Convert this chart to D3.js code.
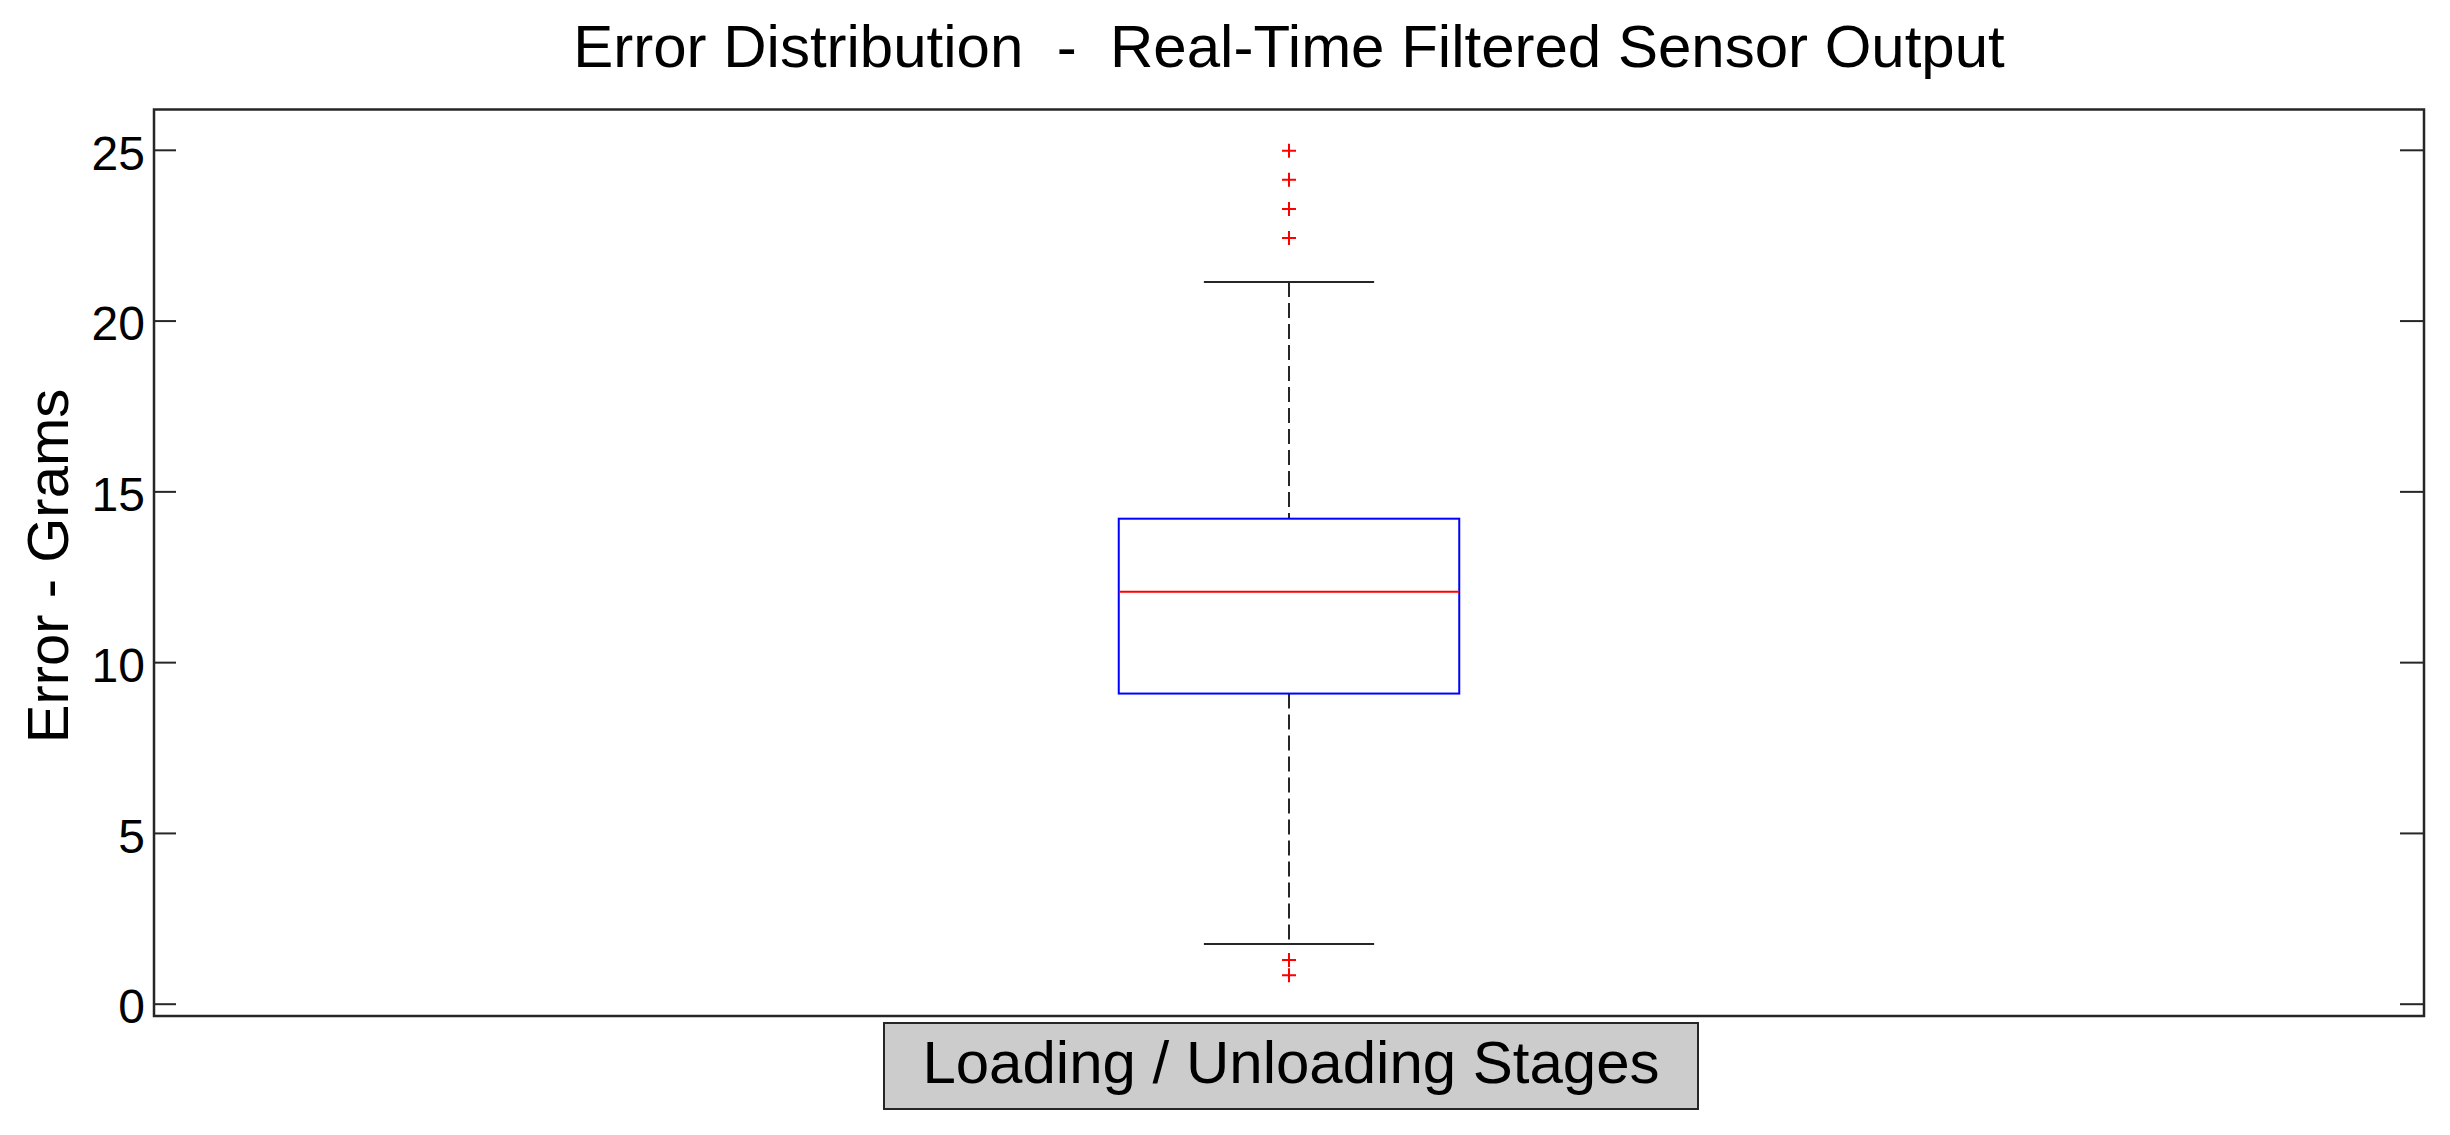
<!DOCTYPE html>
<html>
<head>
<meta charset="utf-8">
<script src="https://cdn.jsdelivr.net/npm/d3@7"></script>
<style>
  html, body { margin: 0; padding: 0; background: #fff; }
  svg { display: block; font-family: 'Liberation Sans', Arial, sans-serif; }
</style>
</head>
<body>
<div id="chart"></div>
<script>
// box statistics
const groups = ['Loading / Unloading Stages'];
const q1 = [9.08];
const median = [12.06];
const q3 = [14.20];
const whiskerLow = [1.75];
const whiskerHigh = [21.13];
const outliers = [[24.97, 24.12, 23.27, 22.42, 1.28, 0.83]];
const yTicks = [0, 5, 10, 15, 20, 25];

const width = 2450, height = 1135;
const plot = { left: 154, right: 2424, top: 109.5, bottom: 1016 };

const svg = d3.select('#chart').append('svg')
  .attr('width', width).attr('height', height);

const x = d3.scaleLinear().domain([0.5, groups.length + 0.5]).range([plot.left, plot.right]);
const y = d3.scaleLinear().domain([-0.36, 26.18]).range([plot.bottom, plot.top]);
const boxHalf = 0.075, capHalf = 0.0375;

// axes (ticks point inwards on both sides)
const yAxisL = svg.append('g').attr('transform', `translate(${plot.left},0)`)
  .call(d3.axisLeft(y).tickValues(yTicks).tickSizeInner(-22).tickSizeOuter(0).tickPadding(9));
yAxisL.select('.domain').remove();
yAxisL.selectAll('.tick line').attr('stroke', '#262626').attr('stroke-width', 2);
yAxisL.selectAll('.tick text').attr('fill', '#000').attr('font-size', 48)
  .attr('font-family', "'Liberation Sans', Arial, sans-serif").attr('dy', '0.4em');

const yAxisR = svg.append('g').attr('transform', `translate(${plot.right},0)`)
  .call(d3.axisRight(y).tickValues(yTicks).tickSizeInner(-24).tickSizeOuter(0).tickFormat(''));
yAxisR.select('.domain').remove();
yAxisR.selectAll('.tick line').attr('stroke', '#262626').attr('stroke-width', 2);

svg.append('rect')
  .attr('x', plot.left).attr('y', plot.top)
  .attr('width', plot.right - plot.left).attr('height', plot.bottom - plot.top)
  .attr('fill', 'none').attr('stroke', '#262626').attr('stroke-width', 2.5);

// box plot
const g = svg.append('g');
groups.forEach((name, i) => {
  const cx = x(i + 1);
  // whiskers
  g.append('line').attr('x1', cx).attr('x2', cx)
    .attr('y1', y(whiskerHigh[i])).attr('y2', y(q3[i]))
    .attr('stroke', '#262626').attr('stroke-width', 2).attr('stroke-dasharray', '15,6');
  g.append('line').attr('x1', cx).attr('x2', cx)
    .attr('y1', y(q1[i])).attr('y2', y(whiskerLow[i]))
    .attr('stroke', '#262626').attr('stroke-width', 2).attr('stroke-dasharray', '15,6');
  [whiskerHigh[i], whiskerLow[i]].forEach(v => {
    g.append('line')
      .attr('x1', x(i + 1 - capHalf)).attr('x2', x(i + 1 + capHalf))
      .attr('y1', y(v)).attr('y2', y(v))
      .attr('stroke', '#262626').attr('stroke-width', 2);
  });
  // box
  g.append('rect')
    .attr('x', x(i + 1 - boxHalf)).attr('width', x(i + 1 + boxHalf) - x(i + 1 - boxHalf))
    .attr('y', y(q3[i])).attr('height', y(q1[i]) - y(q3[i]))
    .attr('fill', 'none').attr('stroke', '#0000ff').attr('stroke-width', 2);
  g.append('line')
    .attr('x1', x(i + 1 - boxHalf)).attr('x2', x(i + 1 + boxHalf))
    .attr('y1', y(median[i])).attr('y2', y(median[i]))
    .attr('stroke', '#ff0000').attr('stroke-width', 2);
  // outliers as '+'
  g.selectAll(null).data(outliers[i]).join('path')
    .attr('d', d => `M${cx - 7},${y(d)}H${cx + 7}M${cx},${y(d) - 7}V${y(d) + 7}`)
    .attr('stroke', '#ff0000').attr('stroke-width', 2).attr('fill', 'none');
});

// x label in grey box
const lblCx = (plot.left + plot.right) / 2 + 2;
svg.append('rect')
  .attr('x', lblCx - 407).attr('y', 1023).attr('width', 814).attr('height', 86)
  .attr('fill', '#cccccc').attr('stroke', '#262626').attr('stroke-width', 2);
svg.append('text')
  .attr('x', lblCx).attr('y', 1083)
  .attr('text-anchor', 'middle').attr('font-size', 60).attr('fill', '#000')
  .text(groups[0]);

// y label
svg.append('text')
  .attr('transform', 'translate(68,566) rotate(-90)')
  .attr('text-anchor', 'middle').attr('font-size', 58).attr('fill', '#000')
  .text('Error - Grams');

// title
svg.append('text')
  .attr('x', (plot.left + plot.right) / 2).attr('y', 67)
  .attr('text-anchor', 'middle').attr('font-size', 60).attr('fill', '#000')
  .style('white-space', 'pre')
  .text('Error Distribution  -  Real-Time Filtered Sensor Output');
</script>
</body>
</html>
